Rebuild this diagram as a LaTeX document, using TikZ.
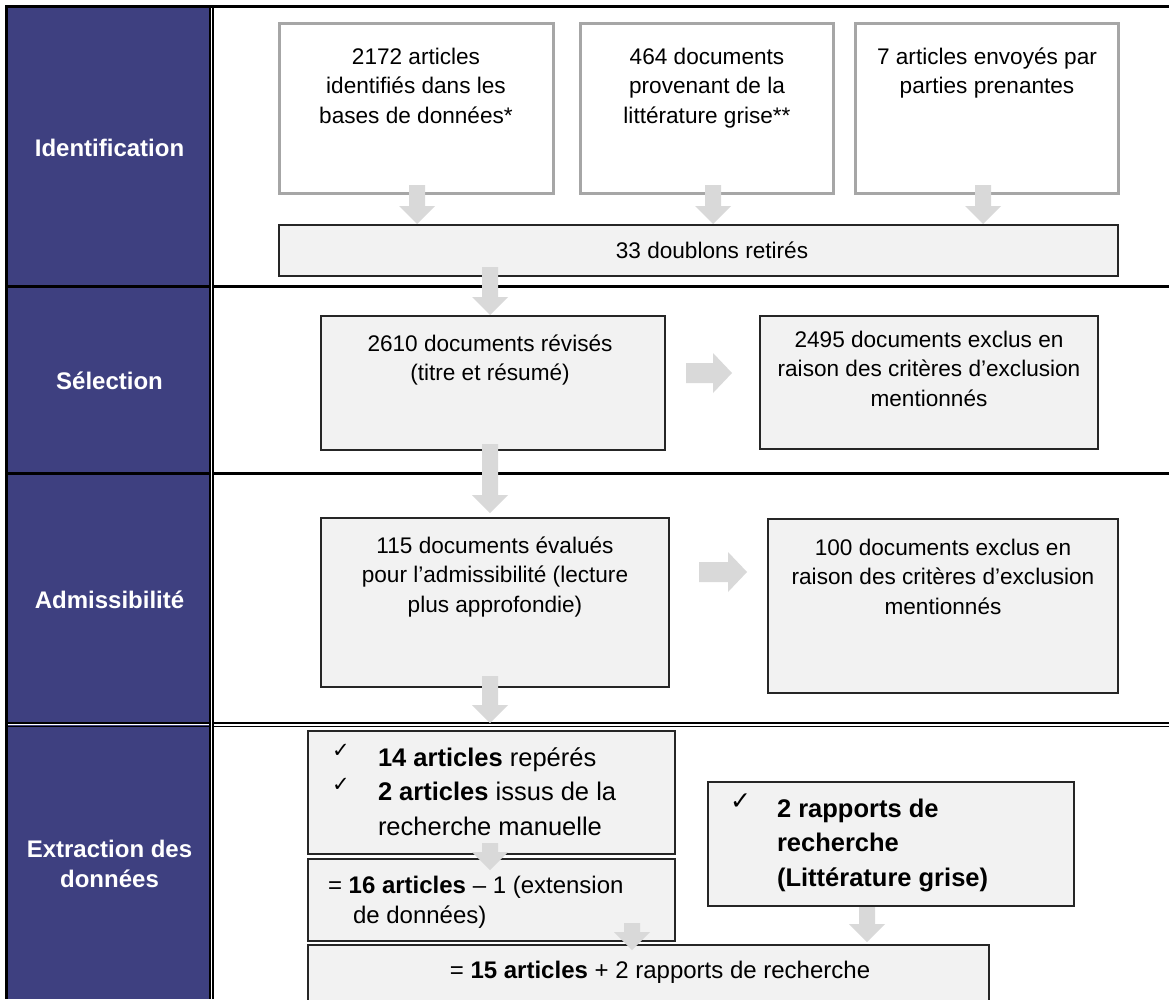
\documentclass[tikz,border=0pt]{standalone}
\usepackage{fontspec}
\setmainfont{Liberation Sans}
\newfontfamily\dejavu{DejaVu Sans}
\usetikzlibrary{calc}
\definecolor{bandblue}{RGB}{62,64,128}
\definecolor{boxfill}{RGB}{242,242,242}
\definecolor{srcgray}{RGB}{166,166,166}
\definecolor{arrowgray}{RGB}{217,217,217}
\newcommand\st{\rule{0pt}{.8em}}
\newcommand\ckA{\smash{\raisebox{9pt}{\dejavu\fontsize{21}{21}\selectfont ✓}}}
\newcommand\ckD{\smash{\raisebox{8pt}{\dejavu\fontsize{25}{25}\selectfont ✓}}}
\begin{document}
\begin{tikzpicture}[x=1pt,y=-1pt,
 every node/.style={inner sep=0pt,outer sep=0pt},
 srcbox/.style={draw=srcgray,line width=3pt,fill=white,anchor=north west},
 flowbox/.style={draw=black!85,line width=1.8pt,fill=boxfill,anchor=north west},
 maintext/.style={anchor=north,align=center,font=\fontsize{22.6}{29.5}\selectfont},
 bandlabel/.style={text=white,align=center,font=\fontsize{24}{30}\selectfont\bfseries},
 extext/.style={anchor=north west,align=left,font=\fontsize{25.5}{34.5}\selectfont},
 exsmall/.style={align=left,font=\fontsize{24}{30}\selectfont},
 frameline/.style={line width=3pt,black},
 thinline/.style={line width=1.4pt,black},
 varrow/.style={to path={let \p1=(\tikztostart), \p2=(\tikztotarget) in
   (\x1-8pt,\y1) -- (\x1+8pt,\y1) -- (\x1+8pt,\y2+18pt) -- (\x1+18pt,\y2+18pt)
   -- (\x1,\y2) -- (\x1-18pt,\y2+18pt) -- (\x1-8pt,\y2+18pt) -- cycle}},
 harrow/.style={to path={let \p1=(\tikztostart), \p2=(\tikztotarget) in
   (\x1,\y1+10pt) -- (\x2-19pt,\y1+10pt) -- (\x2-19pt,\y1+20pt) -- (\x2,\y1)
   -- (\x2-19pt,\y1-20pt) -- (\x2-19pt,\y1-10pt) -- (\x1,\y1-10pt) -- cycle}}]

\clip (0,0) rectangle (1169,999);
\fill[white] (0,0) rectangle (1169,999);
\fill[bandblue] (8,8) rectangle (210,999);

% frame lines
\draw[white,line width=2pt] (8,724.4) -- (1169,724.4);
\draw[frameline] (5,6.7) -- (1169,6.7);
\draw[frameline] (6.7,5) -- (6.7,999);
\draw[frameline] (8,286.5) -- (1169,286.5);
\draw[frameline] (8,473.5) -- (1169,473.5);
\draw[line width=2pt] (8,722.5) -- (1169,722.5);
\draw[line width=1.5pt] (8,726.4) -- (1169,726.4);
\draw[white,line width=2pt] (211.4,8) -- (211.4,999);
\draw[thinline] (209.9,8) -- (209.9,999);
\draw[thinline] (212.9,8) -- (212.9,999);

% band labels
\node[bandlabel,anchor=base] (lid) at (109.5,156) {Identification};
\node[bandlabel,anchor=base] (lsel) at (109.5,389) {Sélection};
\node[bandlabel,anchor=base] (ladm) at (109.5,608) {Admissibilité};
\node[bandlabel,anchor=north] (lext) at (109.5,837.8) {\st Extraction des\\données};

% identification
\node[srcbox,minimum width=274,minimum height=170] (src1) at (279,23) {};
\node[srcbox,minimum width=253,minimum height=170] (src2) at (580,23) {};
\node[srcbox,minimum width=263,minimum height=170] (src3) at (855,23) {};
\node[flowbox,minimum width=839,minimum height=51] (dup) at (279,225) {};
\node[maintext] (src1t) at (416,46) {\st 2172 articles\\identifiés dans les\\bases de données*};
\node[maintext] (src2t) at (707,46) {\st 464 documents\\provenant de la\\littérature grise**};
\node[maintext] (src3t) at (987,46) {\st 7 articles envoyés par\\parties prenantes};
\node[maintext,anchor=base] (dupt) at (712,258) {33 doublons retirés};

% selection
\node[flowbox,minimum width=344,minimum height=134] (rev) at (321,316) {};
\node[flowbox,minimum width=338,minimum height=133] (exc1) at (760,316) {};
\node[maintext] (revt) at (490,333) {\st 2610 documents révisés\\(titre et résumé)};
\node[maintext] (exc1t) at (929,329) {\st 2495 documents exclus en\\raison des critères d’exclusion\\mentionnés};

% admissibility
\node[flowbox,minimum width=348,minimum height=169] (elig) at (321,518) {};
\node[flowbox,minimum width=350,minimum height=174] (exc2) at (768,519) {};
\node[maintext] (eligt) at (495,535) {\st 115 documents évalués\\pour l’admissibilité (lecture\\plus approfondie)};
\node[maintext] (exc2t) at (943,537) {\st 100 documents exclus en\\raison des critères d’exclusion\\mentionnés};

% extraction
\node[flowbox,minimum width=367,minimum height=123] (art) at (308,731) {};
\node[flowbox,minimum width=367,minimum height=82] (sum16) at (308,859) {};
\node[flowbox,minimum width=681,minimum height=80] (fin) at (308,945) {};
\node[flowbox,minimum width=366,minimum height=124] (rap) at (708,782) {};
\node[extext] (artt) at (332,745.6) {\st\makebox[46pt][l]{\ckA}\textbf{14 articles} repérés\\
  \makebox[46pt][l]{\ckA}\textbf{2 articles} issus de la\\
  \hspace*{46pt}recherche manuelle};
\node[exsmall,anchor=north west] (sum16t) at (328,873.8) {\st = \textbf{16 articles} – 1 (extension\\
  \hspace*{25pt}de données)};
\node[exsmall,anchor=base] (fint) at (660,978) {= \textbf{15 articles} + 2 rapports de recherche};
\node[extext] (rapt) at (730,796.6) {\st\makebox[47pt][l]{\ckD}\textbf{2 rapports de}\\
  \hspace*{47pt}\textbf{recherche}\\
  \hspace*{47pt}\textbf{(Littérature grise)}};

% arrows
\coordinate (aAs) at (417,185); \coordinate (aAe) at (417,224);
\coordinate (aBs) at (713,185); \coordinate (aBe) at (713,224);
\coordinate (aCs) at (983,185); \coordinate (aCe) at (983,224);
\coordinate (aDs) at (490,267); \coordinate (aDe) at (490,315);
\coordinate (aEs) at (490,444); \coordinate (aEe) at (490,513);
\coordinate (aFs) at (490,676); \coordinate (aFe) at (490,723);
\coordinate (aGs) at (490,843); \coordinate (aGe) at (490,870);
\coordinate (aHs) at (632,923); \coordinate (aHe) at (632,950);
\coordinate (aIs) at (867,907); \coordinate (aIe) at (867,942);
\coordinate (hAs) at (686,373); \coordinate (hAe) at (732,373);
\coordinate (hBs) at (699,572); \coordinate (hBe) at (747,572);
\fill[arrowgray] (aAs) to[varrow] (aAe);
\fill[arrowgray] (aBs) to[varrow] (aBe);
\fill[arrowgray] (aCs) to[varrow] (aCe);
\fill[arrowgray] (aDs) to[varrow] (aDe);
\fill[arrowgray] (aEs) to[varrow] (aEe);
\fill[arrowgray] (aFs) to[varrow] (aFe);
\fill[arrowgray] (aGs) to[varrow] (aGe);
\fill[arrowgray] (aHs) to[varrow] (aHe);
\fill[arrowgray] (aIs) to[varrow] (aIe);
\fill[arrowgray] (hAs) to[harrow] (hAe);
\fill[arrowgray] (hBs) to[harrow] (hBe);
\end{tikzpicture}
\end{document}
